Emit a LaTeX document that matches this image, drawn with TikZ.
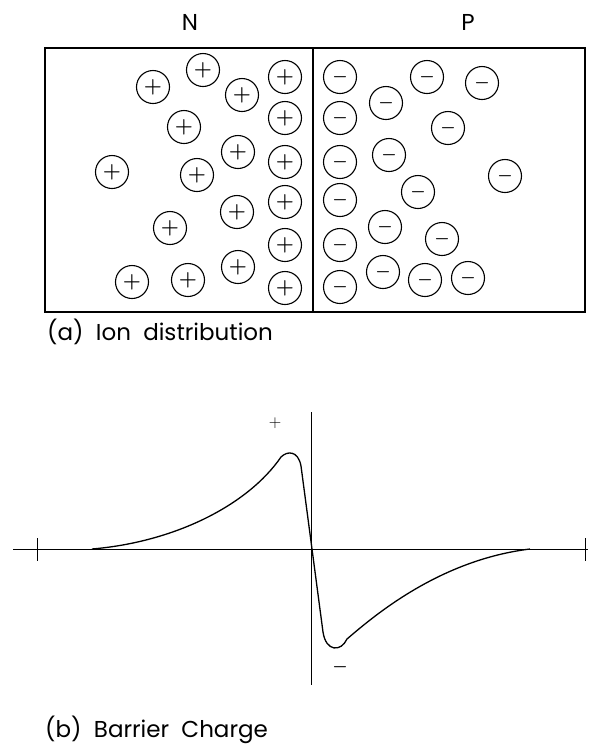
\documentclass[tikz,border=0pt]{standalone}
\usepackage{fontspec}
\setmainfont{Poppins}
\tikzstyle{ion}=[draw, circle, line width=1.1pt, minimum size=33pt, inner sep=0pt, font=\LARGE\boldmath]
\tikzstyle{cation}=[ion, font=\huge\boldmath]
\tikzstyle{side}=[font=\fontsize{23}{26}\selectfont]
\tikzstyle{caption}=[anchor=west, inner sep=0pt, font=\fontsize{23}{26}\selectfont]
\tikzstyle{sign}=[font=\LARGE]

\begin{document}
\begin{tikzpicture}[x=1pt, y=-1pt]
	\useasboundingbox (0,0) rectangle (596,748);
	% (a) ion distribution
	\draw[line width=1.2pt] (45,48) rectangle (585,312);
	\draw[line width=1.2pt] (313,48) -- (313,312);
	\node[side] (n) at (190,22) {N};
	\node[side] (p) at (468,22) {P};
	\node[cation] (p1) at (153,87) {$+$};
	\node[cation] (p2) at (203,70) {$+$};
	\node[cation] (p3) at (242,95) {$+$};
	\node[cation] (p4) at (285,77) {$+$};
	\node[cation] (p5) at (184,127) {$+$};
	\node[cation] (p6) at (285,118) {$+$};
	\node[cation] (p7) at (238,152) {$+$};
	\node[cation] (p8) at (285,162) {$+$};
	\node[cation] (p9) at (112,172) {$+$};
	\node[cation] (p10) at (197,175) {$+$};
	\node[cation] (p11) at (237,212) {$+$};
	\node[cation] (p12) at (285,202) {$+$};
	\node[cation] (p13) at (170,228) {$+$};
	\node[cation] (p14) at (285,245) {$+$};
	\node[cation] (p15) at (132,282) {$+$};
	\node[cation] (p16) at (188,280) {$+$};
	\node[cation] (p17) at (238,267) {$+$};
	\node[cation] (p18) at (285,288) {$+$};
	\node[ion] (m1) at (340,77) {$-$};
	\node[ion] (m2) at (386,103) {$-$};
	\node[ion] (m3) at (427,77) {$-$};
	\node[ion] (m4) at (482,83) {$-$};
	\node[ion] (m5) at (340,118) {$-$};
	\node[ion] (m6) at (448,128) {$-$};
	\node[ion] (m7) at (340,162) {$-$};
	\node[ion] (m8) at (389,155) {$-$};
	\node[ion] (m9) at (505,176) {$-$};
	\node[ion] (m10) at (418,192) {$-$};
	\node[ion] (m11) at (340,200) {$-$};
	\node[ion] (m12) at (385,227) {$-$};
	\node[ion] (m13) at (442,239) {$-$};
	\node[ion] (m14) at (340,245) {$-$};
	\node[ion] (m15) at (383,272) {$-$};
	\node[ion] (m16) at (425,280) {$-$};
	\node[ion] (m17) at (468,278) {$-$};
	\node[ion] (m18) at (340,287) {$-$};
	\node[caption] (capa) at (47,332) {(a)\ \ Ion\ \ distribution};
	% (b) barrier charge
	\draw[line width=0.8pt] (13,549) -- (588,549);
	\draw[line width=0.8pt] (37,538) -- (37,561);
	\draw[line width=0.8pt] (585,538) -- (585,561);
	\draw[line width=0.8pt] (311,412) -- (311,685);
	\draw[line width=1.3pt] (92,549) .. controls (175,542) and (248,505) .. (281,457)
		.. controls (287,451) and (298,450) .. (301,466) -- (323,632)
		.. controls (326,652) and (341,652) .. (347,639)
		.. controls (375,615) and (440,560) .. (530,549);
	\node[sign] (pk) at (275,423) {$+$};
	\node[sign, font=\LARGE\boldmath] (tr) at (340,667) {$-$};
	\node[caption] (capb) at (45,730) {(b)\ \ Barrier\ \ Charge};
\end{tikzpicture}
\end{document}
